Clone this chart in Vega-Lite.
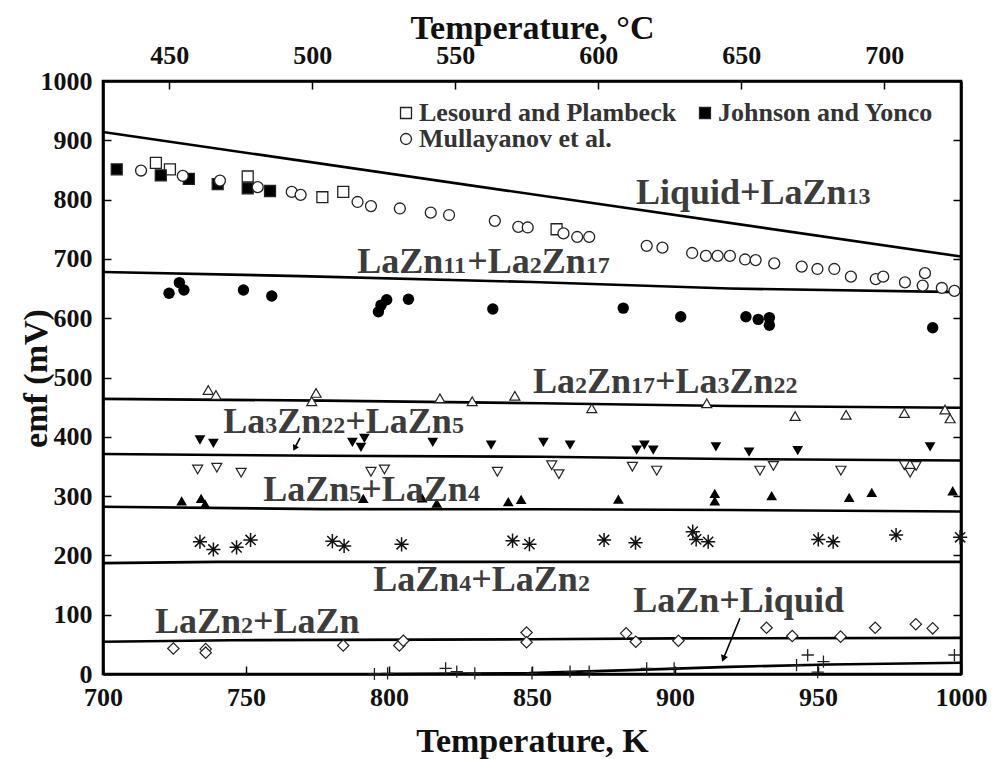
{
  "$schema": "https://vega.github.io/schema/vega-lite/v6.json",
  "width": 858,
  "height": 593,
  "autosize": {"type": "none"},
  "padding": {"left": 103, "top": 81, "right": 39, "bottom": 85},
  "background": "white",
  "datasets": {
    "boundaries": [
      {"boundary": "Liquid+LaZn13", "T": 700, "emf": 914},
      {"boundary": "Liquid+LaZn13", "T": 1000, "emf": 704},
      {"boundary": "LaZn11+La2Zn17", "T": 700, "emf": 678},
      {"boundary": "LaZn11+La2Zn17", "T": 769, "emf": 671},
      {"boundary": "LaZn11+La2Zn17", "T": 850, "emf": 661},
      {"boundary": "LaZn11+La2Zn17", "T": 919, "emf": 650},
      {"boundary": "LaZn11+La2Zn17", "T": 1000, "emf": 644},
      {"boundary": "La2Zn17+La3Zn22", "T": 700, "emf": 464},
      {"boundary": "La2Zn17+La3Zn22", "T": 777, "emf": 461},
      {"boundary": "La2Zn17+La3Zn22", "T": 853, "emf": 456.5},
      {"boundary": "La2Zn17+La3Zn22", "T": 919, "emf": 452},
      {"boundary": "La2Zn17+La3Zn22", "T": 1000, "emf": 449},
      {"boundary": "La3Zn22+LaZn5", "T": 700, "emf": 371},
      {"boundary": "La3Zn22+LaZn5", "T": 777, "emf": 368},
      {"boundary": "La3Zn22+LaZn5", "T": 853, "emf": 366.4},
      {"boundary": "La3Zn22+LaZn5", "T": 919, "emf": 362.6},
      {"boundary": "La3Zn22+LaZn5", "T": 1000, "emf": 360},
      {"boundary": "LaZn5+LaZn4", "T": 700, "emf": 282},
      {"boundary": "LaZn5+LaZn4", "T": 777, "emf": 278},
      {"boundary": "LaZn5+LaZn4", "T": 853, "emf": 277.7},
      {"boundary": "LaZn5+LaZn4", "T": 919, "emf": 276.6},
      {"boundary": "LaZn5+LaZn4", "T": 1000, "emf": 274},
      {"boundary": "LaZn4+LaZn2", "T": 700, "emf": 187},
      {"boundary": "LaZn4+LaZn2", "T": 740, "emf": 189},
      {"boundary": "LaZn4+LaZn2", "T": 1000, "emf": 189},
      {"boundary": "LaZn2+LaZn", "T": 700, "emf": 54.5},
      {"boundary": "LaZn2+LaZn", "T": 745, "emf": 57},
      {"boundary": "LaZn2+LaZn", "T": 850, "emf": 58.5},
      {"boundary": "LaZn2+LaZn", "T": 900, "emf": 60},
      {"boundary": "LaZn2+LaZn", "T": 1000, "emf": 61},
      {"boundary": "LaZn+Liquid", "T": 800, "emf": 0},
      {"boundary": "LaZn+Liquid", "T": 849, "emf": 1.5},
      {"boundary": "LaZn+Liquid", "T": 884, "emf": 6.5},
      {"boundary": "LaZn+Liquid", "T": 919, "emf": 12},
      {"boundary": "LaZn+Liquid", "T": 954, "emf": 16},
      {"boundary": "LaZn+Liquid", "T": 1000, "emf": 19}
    ],
    "points": [
      {"series": "Lesourd and Plambeck", "T": 718.5, "emf": 862},
      {"series": "Lesourd and Plambeck", "T": 723.4, "emf": 851},
      {"series": "Lesourd and Plambeck", "T": 750.6, "emf": 839},
      {"series": "Lesourd and Plambeck", "T": 776.7, "emf": 804},
      {"series": "Lesourd and Plambeck", "T": 784, "emf": 813},
      {"series": "Lesourd and Plambeck", "T": 858.6, "emf": 750},
      {"series": "Johnson and Yonco", "T": 704.8, "emf": 851},
      {"series": "Johnson and Yonco", "T": 720.2, "emf": 841},
      {"series": "Johnson and Yonco", "T": 730, "emf": 835},
      {"series": "Johnson and Yonco", "T": 740.1, "emf": 826},
      {"series": "Johnson and Yonco", "T": 750.6, "emf": 819},
      {"series": "Johnson and Yonco", "T": 758.4, "emf": 814.5},
      {"series": "Mullayanov et al.", "T": 713.3, "emf": 849},
      {"series": "Mullayanov et al.", "T": 727.9, "emf": 840},
      {"series": "Mullayanov et al.", "T": 740.9, "emf": 832},
      {"series": "Mullayanov et al.", "T": 754.1, "emf": 821},
      {"series": "Mullayanov et al.", "T": 766, "emf": 813},
      {"series": "Mullayanov et al.", "T": 769.1, "emf": 808},
      {"series": "Mullayanov et al.", "T": 789, "emf": 796},
      {"series": "Mullayanov et al.", "T": 793.7, "emf": 789},
      {"series": "Mullayanov et al.", "T": 803.8, "emf": 785},
      {"series": "Mullayanov et al.", "T": 814.6, "emf": 778},
      {"series": "Mullayanov et al.", "T": 821, "emf": 774},
      {"series": "Mullayanov et al.", "T": 837, "emf": 764},
      {"series": "Mullayanov et al.", "T": 845.2, "emf": 754},
      {"series": "Mullayanov et al.", "T": 848.5, "emf": 753},
      {"series": "Mullayanov et al.", "T": 861, "emf": 743},
      {"series": "Mullayanov et al.", "T": 865.8, "emf": 737},
      {"series": "Mullayanov et al.", "T": 870, "emf": 737},
      {"series": "Mullayanov et al.", "T": 890.1, "emf": 722},
      {"series": "Mullayanov et al.", "T": 895.6, "emf": 719},
      {"series": "Mullayanov et al.", "T": 906, "emf": 710},
      {"series": "Mullayanov et al.", "T": 910.8, "emf": 705},
      {"series": "Mullayanov et al.", "T": 914.9, "emf": 705},
      {"series": "Mullayanov et al.", "T": 919.2, "emf": 705},
      {"series": "Mullayanov et al.", "T": 924.5, "emf": 699},
      {"series": "Mullayanov et al.", "T": 928.2, "emf": 698},
      {"series": "Mullayanov et al.", "T": 934.7, "emf": 692.5},
      {"series": "Mullayanov et al.", "T": 944.3, "emf": 687},
      {"series": "Mullayanov et al.", "T": 949.8, "emf": 683},
      {"series": "Mullayanov et al.", "T": 955.7, "emf": 683},
      {"series": "Mullayanov et al.", "T": 961.5, "emf": 670},
      {"series": "Mullayanov et al.", "T": 970.2, "emf": 666},
      {"series": "Mullayanov et al.", "T": 972.8, "emf": 670},
      {"series": "Mullayanov et al.", "T": 980.4, "emf": 660.5},
      {"series": "Mullayanov et al.", "T": 987.4, "emf": 676},
      {"series": "Mullayanov et al.", "T": 986.6, "emf": 655},
      {"series": "Mullayanov et al.", "T": 993.3, "emf": 651},
      {"series": "Mullayanov et al.", "T": 997.7, "emf": 646},
      {"series": "LaZn11+La2Zn17", "T": 723.1, "emf": 642},
      {"series": "LaZn11+La2Zn17", "T": 726.7, "emf": 660},
      {"series": "LaZn11+La2Zn17", "T": 728.3, "emf": 647.5},
      {"series": "LaZn11+La2Zn17", "T": 749.1, "emf": 647.5},
      {"series": "LaZn11+La2Zn17", "T": 759, "emf": 637.5},
      {"series": "LaZn11+La2Zn17", "T": 796.3, "emf": 611},
      {"series": "LaZn11+La2Zn17", "T": 797.2, "emf": 622},
      {"series": "LaZn11+La2Zn17", "T": 799.2, "emf": 631},
      {"series": "LaZn11+La2Zn17", "T": 806.8, "emf": 632},
      {"series": "LaZn11+La2Zn17", "T": 836.3, "emf": 615.5},
      {"series": "LaZn11+La2Zn17", "T": 881.9, "emf": 617},
      {"series": "LaZn11+La2Zn17", "T": 902, "emf": 602.5},
      {"series": "LaZn11+La2Zn17", "T": 924.8, "emf": 602.5},
      {"series": "LaZn11+La2Zn17", "T": 929.1, "emf": 598},
      {"series": "LaZn11+La2Zn17", "T": 933, "emf": 601},
      {"series": "LaZn11+La2Zn17", "T": 933, "emf": 588},
      {"series": "LaZn11+La2Zn17", "T": 990.1, "emf": 584},
      {"series": "La2Zn17+La3Zn22", "T": 736.8, "emf": 479},
      {"series": "La2Zn17+La3Zn22", "T": 739.5, "emf": 470.5},
      {"series": "La2Zn17+La3Zn22", "T": 773, "emf": 460},
      {"series": "La2Zn17+La3Zn22", "T": 774.5, "emf": 474},
      {"series": "La2Zn17+La3Zn22", "T": 817.8, "emf": 465},
      {"series": "La2Zn17+La3Zn22", "T": 829.1, "emf": 460},
      {"series": "La2Zn17+La3Zn22", "T": 844, "emf": 469},
      {"series": "La2Zn17+La3Zn22", "T": 870.9, "emf": 448},
      {"series": "La2Zn17+La3Zn22", "T": 911.1, "emf": 456.5},
      {"series": "La2Zn17+La3Zn22", "T": 942, "emf": 435},
      {"series": "La2Zn17+La3Zn22", "T": 959.8, "emf": 437},
      {"series": "La2Zn17+La3Zn22", "T": 980.2, "emf": 440},
      {"series": "La2Zn17+La3Zn22", "T": 994.4, "emf": 446},
      {"series": "La2Zn17+La3Zn22", "T": 996.2, "emf": 431},
      {"series": "La3Zn22+LaZn5", "T": 733.9, "emf": 394.6},
      {"series": "La3Zn22+LaZn5", "T": 738.6, "emf": 389},
      {"series": "La3Zn22+LaZn5", "T": 787.2, "emf": 390.7},
      {"series": "La3Zn22+LaZn5", "T": 791.4, "emf": 397.5},
      {"series": "La3Zn22+LaZn5", "T": 790.2, "emf": 382},
      {"series": "La3Zn22+LaZn5", "T": 815.3, "emf": 390.7},
      {"series": "La3Zn22+LaZn5", "T": 835.7, "emf": 386},
      {"series": "La3Zn22+LaZn5", "T": 854, "emf": 390.7},
      {"series": "La3Zn22+LaZn5", "T": 863.3, "emf": 386},
      {"series": "La3Zn22+LaZn5", "T": 886.6, "emf": 377.7},
      {"series": "La3Zn22+LaZn5", "T": 889.3, "emf": 386},
      {"series": "La3Zn22+LaZn5", "T": 892.4, "emf": 377.7},
      {"series": "La3Zn22+LaZn5", "T": 914.3, "emf": 383},
      {"series": "La3Zn22+LaZn5", "T": 925.9, "emf": 374},
      {"series": "La3Zn22+LaZn5", "T": 942.9, "emf": 376.6},
      {"series": "La3Zn22+LaZn5", "T": 989.2, "emf": 383},
      {"series": "LaZn5+LaZn4 upper", "T": 733.1, "emf": 345},
      {"series": "LaZn5+LaZn4 upper", "T": 739.8, "emf": 348},
      {"series": "LaZn5+LaZn4 upper", "T": 748.3, "emf": 339.5},
      {"series": "LaZn5+LaZn4 upper", "T": 793.7, "emf": 341},
      {"series": "LaZn5+LaZn4 upper", "T": 798.4, "emf": 345},
      {"series": "LaZn5+LaZn4 upper", "T": 837.9, "emf": 341},
      {"series": "LaZn5+LaZn4 upper", "T": 856.9, "emf": 352},
      {"series": "LaZn5+LaZn4 upper", "T": 859.4, "emf": 337},
      {"series": "LaZn5+LaZn4 upper", "T": 885.1, "emf": 349.5},
      {"series": "LaZn5+LaZn4 upper", "T": 893.6, "emf": 343},
      {"series": "LaZn5+LaZn4 upper", "T": 929.7, "emf": 343},
      {"series": "LaZn5+LaZn4 upper", "T": 934.4, "emf": 351},
      {"series": "LaZn5+LaZn4 upper", "T": 958, "emf": 343},
      {"series": "LaZn5+LaZn4 upper", "T": 980.2, "emf": 352},
      {"series": "LaZn5+LaZn4 upper", "T": 982.2, "emf": 339.5},
      {"series": "LaZn5+LaZn4 upper", "T": 984.3, "emf": 351},
      {"series": "LaZn5+LaZn4 lower", "T": 727.5, "emf": 292},
      {"series": "LaZn5+LaZn4 lower", "T": 734.3, "emf": 296},
      {"series": "LaZn5+LaZn4 lower", "T": 735.7, "emf": 286.7},
      {"series": "LaZn5+LaZn4 lower", "T": 791, "emf": 296},
      {"series": "LaZn5+LaZn4 lower", "T": 811.6, "emf": 297},
      {"series": "LaZn5+LaZn4 lower", "T": 816.7, "emf": 288},
      {"series": "LaZn5+LaZn4 lower", "T": 841.7, "emf": 290.6},
      {"series": "LaZn5+LaZn4 lower", "T": 846.2, "emf": 294.6},
      {"series": "LaZn5+LaZn4 lower", "T": 880.2, "emf": 295},
      {"series": "LaZn5+LaZn4 lower", "T": 913.9, "emf": 304.7},
      {"series": "LaZn5+LaZn4 lower", "T": 913.9, "emf": 292},
      {"series": "LaZn5+LaZn4 lower", "T": 933.8, "emf": 300.7},
      {"series": "LaZn5+LaZn4 lower", "T": 960.9, "emf": 298},
      {"series": "LaZn5+LaZn4 lower", "T": 968.8, "emf": 306.4},
      {"series": "LaZn5+LaZn4 lower", "T": 997.1, "emf": 309},
      {"series": "LaZn4+LaZn2", "T": 733.9, "emf": 223},
      {"series": "LaZn4+LaZn2", "T": 738.6, "emf": 210},
      {"series": "LaZn4+LaZn2", "T": 746.7, "emf": 213.6},
      {"series": "LaZn4+LaZn2", "T": 751.6, "emf": 226},
      {"series": "LaZn4+LaZn2", "T": 780.2, "emf": 224},
      {"series": "LaZn4+LaZn2", "T": 784.3, "emf": 216},
      {"series": "LaZn4+LaZn2", "T": 804.4, "emf": 218.7},
      {"series": "LaZn4+LaZn2", "T": 843.2, "emf": 224.8},
      {"series": "LaZn4+LaZn2", "T": 849.1, "emf": 219},
      {"series": "LaZn4+LaZn2", "T": 875.2, "emf": 226},
      {"series": "LaZn4+LaZn2", "T": 886.2, "emf": 221.4},
      {"series": "LaZn4+LaZn2", "T": 906.2, "emf": 240},
      {"series": "LaZn4+LaZn2", "T": 907.4, "emf": 227},
      {"series": "LaZn4+LaZn2", "T": 911.6, "emf": 223},
      {"series": "LaZn4+LaZn2", "T": 950.1, "emf": 227},
      {"series": "LaZn4+LaZn2", "T": 955.3, "emf": 223},
      {"series": "LaZn4+LaZn2", "T": 977.3, "emf": 234.4},
      {"series": "LaZn4+LaZn2", "T": 999.7, "emf": 230.5},
      {"series": "LaZn2+LaZn", "T": 724.6, "emf": 43},
      {"series": "LaZn2+LaZn", "T": 735.9, "emf": 42},
      {"series": "LaZn2+LaZn", "T": 735.9, "emf": 36},
      {"series": "LaZn2+LaZn", "T": 784, "emf": 48},
      {"series": "LaZn2+LaZn", "T": 803.6, "emf": 48},
      {"series": "LaZn2+LaZn", "T": 805, "emf": 56},
      {"series": "LaZn2+LaZn", "T": 848.1, "emf": 70},
      {"series": "LaZn2+LaZn", "T": 848.1, "emf": 53.5},
      {"series": "LaZn2+LaZn", "T": 882.9, "emf": 68.6},
      {"series": "LaZn2+LaZn", "T": 886.3, "emf": 54.5},
      {"series": "LaZn2+LaZn", "T": 901.2, "emf": 56},
      {"series": "LaZn2+LaZn", "T": 932, "emf": 78},
      {"series": "LaZn2+LaZn", "T": 941, "emf": 64},
      {"series": "LaZn2+LaZn", "T": 957.9, "emf": 63},
      {"series": "LaZn2+LaZn", "T": 970, "emf": 78},
      {"series": "LaZn2+LaZn", "T": 984.2, "emf": 84},
      {"series": "LaZn2+LaZn", "T": 990.1, "emf": 77},
      {"series": "LaZn+Liquid", "T": 794.9, "emf": 0},
      {"series": "LaZn+Liquid", "T": 799.5, "emf": 1},
      {"series": "LaZn+Liquid", "T": 819.8, "emf": 9.6},
      {"series": "LaZn+Liquid", "T": 823.7, "emf": 4},
      {"series": "LaZn+Liquid", "T": 830, "emf": 1},
      {"series": "LaZn+Liquid", "T": 850, "emf": 1},
      {"series": "LaZn+Liquid", "T": 863.3, "emf": 4},
      {"series": "LaZn+Liquid", "T": 870, "emf": 4},
      {"series": "LaZn+Liquid", "T": 890.1, "emf": 9.6},
      {"series": "LaZn+Liquid", "T": 899.7, "emf": 9.6},
      {"series": "LaZn+Liquid", "T": 942.5, "emf": 15},
      {"series": "LaZn+Liquid", "T": 946.4, "emf": 32},
      {"series": "LaZn+Liquid", "T": 951.9, "emf": 21},
      {"series": "LaZn+Liquid", "T": 949.9, "emf": 3},
      {"series": "LaZn+Liquid", "T": 997.7, "emf": 32}
    ],
    "labels": [
      {"part": "big", "T": 886.36, "emf": 792.1, "text": "Liquid+LaZn"},
      {"part": "small", "T": 960.0, "emf": 792.1, "text": "13"},
      {"part": "big", "T": 788.92, "emf": 675.7, "text": "LaZn"},
      {"part": "small", "T": 818.99, "emf": 675.7, "text": "11"},
      {"part": "big", "T": 827.38, "emf": 675.7, "text": "+La"},
      {"part": "small", "T": 849.23, "emf": 675.7, "text": "2"},
      {"part": "big", "T": 853.43, "emf": 675.7, "text": "Zn"},
      {"part": "small", "T": 868.81, "emf": 675.7, "text": "17"},
      {"part": "big", "T": 850.35, "emf": 473.4, "text": "La"},
      {"part": "small", "T": 865.03, "emf": 473.4, "text": "2"},
      {"part": "big", "T": 869.23, "emf": 473.4, "text": "Zn"},
      {"part": "small", "T": 884.62, "emf": 473.4, "text": "17"},
      {"part": "big", "T": 893.01, "emf": 473.4, "text": "+La"},
      {"part": "small", "T": 914.86, "emf": 473.4, "text": "3"},
      {"part": "big", "T": 919.06, "emf": 473.4, "text": "Zn"},
      {"part": "small", "T": 934.44, "emf": 473.4, "text": "22"},
      {"part": "big", "T": 742.06, "emf": 405.9, "text": "La"},
      {"part": "small", "T": 756.75, "emf": 405.9, "text": "3"},
      {"part": "big", "T": 760.94, "emf": 405.9, "text": "Zn"},
      {"part": "small", "T": 776.33, "emf": 405.9, "text": "22"},
      {"part": "big", "T": 784.72, "emf": 405.9, "text": "+LaZn"},
      {"part": "small", "T": 821.99, "emf": 405.9, "text": "5"},
      {"part": "big", "T": 756.05, "emf": 292.2, "text": "LaZn"},
      {"part": "small", "T": 786.12, "emf": 292.2, "text": "5"},
      {"part": "big", "T": 790.31, "emf": 292.2, "text": "+LaZn"},
      {"part": "small", "T": 827.59, "emf": 292.2, "text": "4"},
      {"part": "big", "T": 794.51, "emf": 140.5, "text": "LaZn"},
      {"part": "small", "T": 824.58, "emf": 140.5, "text": "4"},
      {"part": "big", "T": 828.78, "emf": 140.5, "text": "+LaZn"},
      {"part": "small", "T": 866.05, "emf": 140.5, "text": "2"},
      {"part": "big", "T": 718.18, "emf": 68.6, "text": "LaZn"},
      {"part": "small", "T": 748.25, "emf": 68.6, "text": "2"},
      {"part": "big", "T": 752.45, "emf": 68.6, "text": "+LaZn"},
      {"part": "big", "T": 885.42, "emf": 105.1, "text": "LaZn+Liquid"}
    ],
    "arrows": [
      {"arrow": "La3Zn22+LaZn5", "T": 768.9, "emf": 398},
      {"arrow": "La3Zn22+LaZn5", "T": 767.0, "emf": 380.8},
      {"arrow": "LaZn+Liquid", "T": 922.7, "emf": 94},
      {"arrow": "LaZn+Liquid", "T": 916.9, "emf": 25.8}
    ]
  },
  "layer": [
    {
      "data": {"name": "boundaries"},
      "mark": {"type": "line", "color": "black", "strokeWidth": 2.6},
      "encoding": {
        "x": {
          "field": "T", "type": "quantitative",
          "scale": {"domain": [700, 1000], "nice": false, "zero": false},
          "axis": {
            "orient": "bottom",
            "values": [700, 750, 800, 850, 900, 950, 1000],
            "format": "d",
            "title": "Temperature, K",
            "tickSize": -8,
            "labelPadding": 18,
            "titleY": 77,
            "titleBaseline": "alphabetic"
          }
        },
        "y": {
          "field": "emf", "type": "quantitative",
          "scale": {"domain": [0, 1000], "nice": false},
          "axis": {
            "orient": "left",
            "values": [0, 100, 200, 300, 400, 500, 600, 700, 800, 900, 1000],
            "format": "d",
            "title": "emf (mV)",
            "tickSize": -8,
            "labelPadding": 19,
            "titleX": -67,
            "titleY": 297,
            "titleAngle": 270,
            "titleAlign": "center",
            "titleBaseline": "middle"
          }
        },
        "detail": {"field": "boundary"}
      }
    },
    {
      "data": {"name": "boundaries"},
      "mark": {"type": "point", "opacity": 0},
      "encoding": {
        "x": {
          "field": "T", "type": "quantitative",
          "axis": {
            "orient": "top",
            "values": [723.15, 773.15, 823.15, 873.15, 923.15, 973.15],
            "labelExpr": "format(datum.value - 273.15, '.0f')",
            "title": "Temperature, °C",
            "tickSize": -8,
            "labelPadding": 21,
            "titleY": -43,
            "titleBaseline": "alphabetic"
          }
        },
        "y": {
          "field": "emf", "type": "quantitative",
          "axis": {
            "orient": "right",
            "values": [0, 100, 200, 300, 400, 500, 600, 700, 800, 900, 1000],
            "labels": false,
            "title": null,
            "tickSize": -8
          }
        }
      }
    },
    {
      "data": {"name": "arrows"},
      "mark": {"type": "line", "color": "black", "strokeWidth": 1.6},
      "encoding": {
        "x": {"field": "T", "type": "quantitative", "axis": null},
        "y": {"field": "emf", "type": "quantitative", "axis": null},
        "detail": {"field": "arrow"},
        "order": {"field": "emf", "sort": "descending"}
      }
    },
    {
      "data": {"name": "arrows"},
      "transform": [{"filter": "datum.arrow == 'La3Zn22+LaZn5' && datum.emf < 390"}],
      "mark": {"type": "point", "shape": "triangle-down", "filled": true, "color": "black", "opacity": 1, "size": 45, "angle": 28},
      "encoding": {
        "x": {"field": "T", "type": "quantitative", "axis": null},
        "y": {"field": "emf", "type": "quantitative", "axis": null}
      }
    },
    {
      "data": {"name": "arrows"},
      "transform": [{"filter": "datum.arrow == 'LaZn+Liquid' && datum.emf < 50"}],
      "mark": {"type": "point", "shape": "triangle-down", "filled": true, "color": "black", "opacity": 1, "size": 55, "angle": 22},
      "encoding": {
        "x": {"field": "T", "type": "quantitative", "axis": null},
        "y": {"field": "emf", "type": "quantitative", "axis": null}
      }
    },
    {
      "data": {"name": "points"},
      "transform": [{"filter": "datum.series == 'LaZn11+La2Zn17'"}],
      "mark": {"type": "point", "shape": "circle", "filled": true, "color": "black", "opacity": 1, "size": 130},
      "encoding": {
        "x": {"field": "T", "type": "quantitative", "axis": null},
        "y": {"field": "emf", "type": "quantitative", "axis": null}
      }
    },
    {
      "data": {"name": "points"},
      "transform": [{"filter": "datum.series == 'La2Zn17+La3Zn22'"}],
      "mark": {"type": "point", "shape": "triangle-up", "fill": "white", "stroke": "#222", "strokeWidth": 1.2, "opacity": 1, "size": 100},
      "encoding": {
        "x": {"field": "T", "type": "quantitative", "axis": null},
        "y": {"field": "emf", "type": "quantitative", "axis": null}
      }
    },
    {
      "data": {"name": "points"},
      "transform": [{"filter": "datum.series == 'La3Zn22+LaZn5'"}],
      "mark": {"type": "point", "shape": "triangle-down", "filled": true, "color": "black", "opacity": 1, "size": 115},
      "encoding": {
        "x": {"field": "T", "type": "quantitative", "axis": null},
        "y": {"field": "emf", "type": "quantitative", "axis": null}
      }
    },
    {
      "data": {"name": "points"},
      "transform": [{"filter": "datum.series == 'LaZn5+LaZn4 upper'"}],
      "mark": {"type": "point", "shape": "triangle-down", "fill": "white", "stroke": "#222", "strokeWidth": 1.2, "opacity": 1, "size": 100},
      "encoding": {
        "x": {"field": "T", "type": "quantitative", "axis": null},
        "y": {"field": "emf", "type": "quantitative", "axis": null}
      }
    },
    {
      "data": {"name": "points"},
      "transform": [{"filter": "datum.series == 'LaZn5+LaZn4 lower'"}],
      "mark": {"type": "point", "shape": "triangle-up", "filled": true, "color": "black", "opacity": 1, "size": 115},
      "encoding": {
        "x": {"field": "T", "type": "quantitative", "axis": null},
        "y": {"field": "emf", "type": "quantitative", "axis": null}
      }
    },
    {
      "data": {"name": "points"},
      "transform": [{"filter": "datum.series == 'LaZn4+LaZn2'"}],
      "mark": {"type": "point", "shape": "M-1,0L1,0M0,-1L0,1M-0.72,-0.72L0.72,0.72M-0.72,0.72L0.72,-0.72", "filled": false, "stroke": "#111", "strokeWidth": 1.5, "opacity": 1, "size": 200},
      "encoding": {
        "x": {"field": "T", "type": "quantitative", "axis": null},
        "y": {"field": "emf", "type": "quantitative", "axis": null}
      }
    },
    {
      "data": {"name": "points"},
      "transform": [{"filter": "datum.series == 'LaZn2+LaZn'"}],
      "mark": {"type": "point", "shape": "diamond", "fill": "white", "stroke": "#222", "strokeWidth": 1.2, "opacity": 1, "size": 130},
      "encoding": {
        "x": {"field": "T", "type": "quantitative", "axis": null},
        "y": {"field": "emf", "type": "quantitative", "axis": null}
      }
    },
    {
      "data": {"name": "points"},
      "transform": [{"filter": "datum.series == 'LaZn+Liquid'"}],
      "mark": {"type": "point", "shape": "M-1,0L1,0M0,-1L0,1", "filled": false, "stroke": "#222", "strokeWidth": 1.3, "opacity": 1, "size": 150},
      "encoding": {
        "x": {"field": "T", "type": "quantitative", "axis": null},
        "y": {"field": "emf", "type": "quantitative", "axis": null}
      }
    },
    {
      "data": {"name": "points"},
      "transform": [{"filter": {"field": "series", "oneOf": ["Lesourd and Plambeck", "Johnson and Yonco", "Mullayanov et al."]}}],
      "mark": {"type": "point", "filled": true, "stroke": "#222", "strokeWidth": 1.3, "opacity": 1, "size": 120},
      "encoding": {
        "x": {"field": "T", "type": "quantitative", "axis": null},
        "y": {"field": "emf", "type": "quantitative", "axis": null},
        "shape": {
          "field": "series", "type": "nominal",
          "scale": {"domain": ["Lesourd and Plambeck", "Johnson and Yonco", "Mullayanov et al."], "range": ["square", "square", "circle"]},
          "legend": {
            "title": null,
            "encode": {"symbols": {"enter": {"stroke": {"value": "#222"}, "strokeWidth": {"value": 1.3}}, "update": {"stroke": {"value": "#222"}, "strokeWidth": {"value": 1.3}}}}
          }
        },
        "fill": {
          "field": "series", "type": "nominal",
          "scale": {"domain": ["Lesourd and Plambeck", "Johnson and Yonco", "Mullayanov et al."], "range": ["white", "black", "white"]},
          "legend": {
            "title": null,
            "encode": {"symbols": {"enter": {"stroke": {"value": "#222"}, "strokeWidth": {"value": 1.3}}, "update": {"stroke": {"value": "#222"}, "strokeWidth": {"value": 1.3}}}}
          }
        }
      }
    },
    {
      "data": {"name": "labels"},
      "transform": [{"filter": "datum.part == 'big'"}],
      "mark": {"type": "text", "font": "Liberation Serif", "fontWeight": "bold", "fontSize": 36, "color": "#3c3c3c", "align": "left", "baseline": "alphabetic"},
      "encoding": {
        "x": {"field": "T", "type": "quantitative", "axis": null},
        "y": {"field": "emf", "type": "quantitative", "axis": null},
        "text": {"field": "text"}
      }
    },
    {
      "data": {"name": "labels"},
      "transform": [{"filter": "datum.part == 'small'"}],
      "mark": {"type": "text", "font": "Liberation Serif", "fontWeight": "bold", "fontSize": 24, "color": "#3c3c3c", "align": "left", "baseline": "alphabetic"},
      "encoding": {
        "x": {"field": "T", "type": "quantitative", "axis": null},
        "y": {"field": "emf", "type": "quantitative", "axis": null},
        "text": {"field": "text"}
      }
    }
  ],
  "resolve": {"axis": {"x": "independent", "y": "independent"}},
  "config": {
    "view": {"stroke": "black", "strokeWidth": 2.6},
    "axis": {
      "grid": false,
      "domainColor": "black",
      "domainWidth": 2.6,
      "tickColor": "black",
      "tickWidth": 1.5,
      "labelFont": "Liberation Serif",
      "labelFontWeight": "bold",
      "labelFontSize": 26,
      "labelColor": "#111",
      "labelFlush": false,
      "labelOverlap": false,
      "titleFont": "Liberation Serif",
      "titleFontWeight": "bold",
      "titleFontSize": 34,
      "titleColor": "#111"
    },
    "legend": {
      "orient": "none",
      "legendX": 290,
      "legendY": 19,
      "direction": "horizontal",
      "columns": 2,
      "labelFont": "Liberation Serif",
      "labelFontWeight": "bold",
      "labelFontSize": 26,
      "labelColor": "#333",
      "labelOffset": 0,
      "labelLimit": 400,
      "symbolSize": 120,
      "symbolStrokeWidth": 1.3,
      "columnPadding": 15,
      "rowPadding": 0
    }
  }
}
